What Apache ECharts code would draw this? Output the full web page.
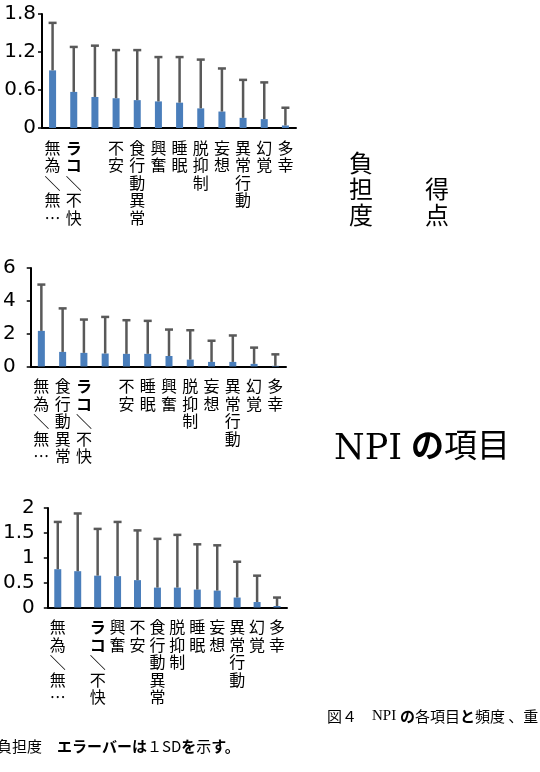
<!DOCTYPE html>
<html>
<head>
<meta charset="utf-8">
<script src="https://cdn.jsdelivr.net/npm/echarts@6/dist/echarts.min.js"></script>
<style>
html,body{margin:0;padding:0;background:#fff;}
#c{width:540px;height:772px;}
</style>
</head>
<body>
<div id="c"></div>
<script>
// ---- data ----
const categories1 = ['無為＼無…','ラコ＼不快','','不安','食行動異常','興奮','睡眠','脱抑制','妄想','異常行動','幻覚','多幸'];
const means1 = [0.91,0.57,0.49,0.47,0.44,0.42,0.40,0.31,0.26,0.16,0.14,0.04];
const sds1   = [0.75,0.71,0.81,0.76,0.79,0.70,0.72,0.77,0.68,0.60,0.58,0.28];
const yTicks1 = [0,0.6,1.2,1.8];

const categories2 = ['無為＼無…','食行動異常','ラコ＼不快','','不安','睡眠','興奮','脱抑制','妄想','異常行動','幻覚','多幸'];
const means2 = [2.17,0.89,0.83,0.79,0.77,0.77,0.64,0.42,0.28,0.28,0.16,0.04];
const sds2   = [2.82,2.65,2.03,2.23,2.05,2.01,1.61,1.79,1.29,1.61,0.99,0.70];
const yTicks2 = [0,2,4,6];

const categories3 = ['無為＼無…','','ラコ＼不快','興奮','不安','食行動異常','脱抑制','睡眠','妄想','異常行動','幻覚','多幸'];
const means3 = [0.77,0.73,0.64,0.63,0.55,0.40,0.40,0.36,0.34,0.20,0.11,0.03];
const sds3   = [0.95,1.16,0.94,1.09,1.00,0.98,1.06,0.91,0.91,0.72,0.53,0.17];
const yTicks3 = [0,0.5,1,1.5,2];

// ---- chart ----
const chart = echarts.init(document.getElementById('c'), null, {renderer:'canvas'});
const CJK = '"Noto Sans CJK JP","Noto Sans",sans-serif';
const BAR = '#4a7ebb';
const ERR = '#595959';

function vertLabel(v){
  return v.split('').map(c => (c==='ラ'||c==='コ'||c==='＼') ? '{k|'+c+'}' : c).join('\n');
}
function xAxis(i, cats){
  return {
    type:'category', gridIndex:i, data:cats,
    axisLine:{lineStyle:{color:'#000',width:2}},
    axisTick:{show:false},
    axisLabel:{
      interval:0, margin:11, color:'#000', fontSize:16, lineHeight:17.5,
      fontFamily:CJK, verticalAlign:'top', formatter:vertLabel,
      rich:{k:{fontWeight:'bold',fontSize:16,lineHeight:17.5,fontFamily:CJK,color:'#000'}}
    }
  };
}
function yAxis(i, ticks, margin){
  return {
    type:'value', gridIndex:i, min:ticks[0], max:ticks[ticks.length-1],
    interval:ticks[1]-ticks[0],
    splitLine:{show:false},
    axisLine:{show:true,lineStyle:{color:'#000',width:2}},
    axisTick:{show:true,length:4,lineStyle:{color:'#000',width:1.5}},
    axisLabel:{color:'#000',fontSize:20,fontFamily:'"DejaVu Sans",sans-serif',margin:margin}
  };
}
function errSeries(i, means, sds){
  return {
    type:'custom', xAxisIndex:i, yAxisIndex:i, z:5,
    data: means.map((m,k)=>[k,m,sds[k]]),
    renderItem:function(params, api){
      const k = api.value(0), m = api.value(1), s = api.value(2);
      const p0 = api.coord([k, m]);
      const p1 = api.coord([k, m + s]);
      return {type:'group', children:[
        {type:'line', shape:{x1:p0[0],y1:p0[1],x2:p1[0],y2:p1[1]}, style:{stroke:ERR,lineWidth:2.5}},
        {type:'line', shape:{x1:p1[0]-4,y1:p1[1],x2:p1[0]+4,y2:p1[1]}, style:{stroke:ERR,lineWidth:2.5}}
      ]};
    }
  };
}
function barSeries(i, means){
  return {type:'bar', xAxisIndex:i, yAxisIndex:i, data:means, barWidth:7, itemStyle:{color:BAR}, z:3, animation:false};
}

const option = {
  animation:false,
  grid:[
    {left:42, width:254, top:14, height:114},
    {left:30, width:256, top:268, height:98.5},
    {left:47, width:240, top:508, height:99.5}
  ],
  xAxis:[xAxis(0,categories1), xAxis(1,categories2), xAxis(2,categories3)],
  yAxis:[yAxis(0,yTicks1,6), yAxis(1,yTicks2,15), yAxis(2,yTicks3,13)],
  series:[
    barSeries(0,means1), errSeries(0,means1,sds1),
    barSeries(1,means2), errSeries(1,means2,sds2),
    barSeries(2,means3), errSeries(2,means3,sds3)
  ],
  graphic:[
    {type:'text', left:349, top:150, style:{text:'負\n担\n度', font:'24px '+CJK, lineHeight:26, fill:'#000'}},
    {type:'text', left:425, top:176, style:{text:'得\n点', font:'24px '+CJK, lineHeight:26, fill:'#000'}},
    {type:'text', left:334, top:432, style:{text:'NPI', font:'35px "DejaVu Serif",serif', fill:'#000'}},
    {type:'text', left:411, top:428, style:{
      text:'{b|の}{c|項目}',
      rich:{
        b:{fontFamily:CJK,fontSize:33,fontWeight:'bold',color:'#000'},
        c:{fontFamily:CJK,fontSize:33,color:'#000'}
      }}},
    {type:'text', left:327, top:709, style:{
      text:'図４　{s|NPI }{b|の}各項目{b|と}頻度 、重',
      font:'15px '+CJK, fill:'#000',
      rich:{
        s:{fontFamily:'"Liberation Serif",serif',fontSize:15,color:'#000'},
        b:{fontFamily:CJK,fontSize:15,fontWeight:'bold',color:'#000'}
      }}},
    {type:'text', left:-3, top:739, style:{
      text:'負担度　{b|エラーバーは}１SD{b|を}示{b|す。}',
      font:'15px '+CJK, fill:'#000',
      rich:{
        b:{fontFamily:CJK,fontSize:15,fontWeight:'bold',color:'#000'}
      }}}
  ]
};
chart.setOption(option);
</script>
</body>
</html>
